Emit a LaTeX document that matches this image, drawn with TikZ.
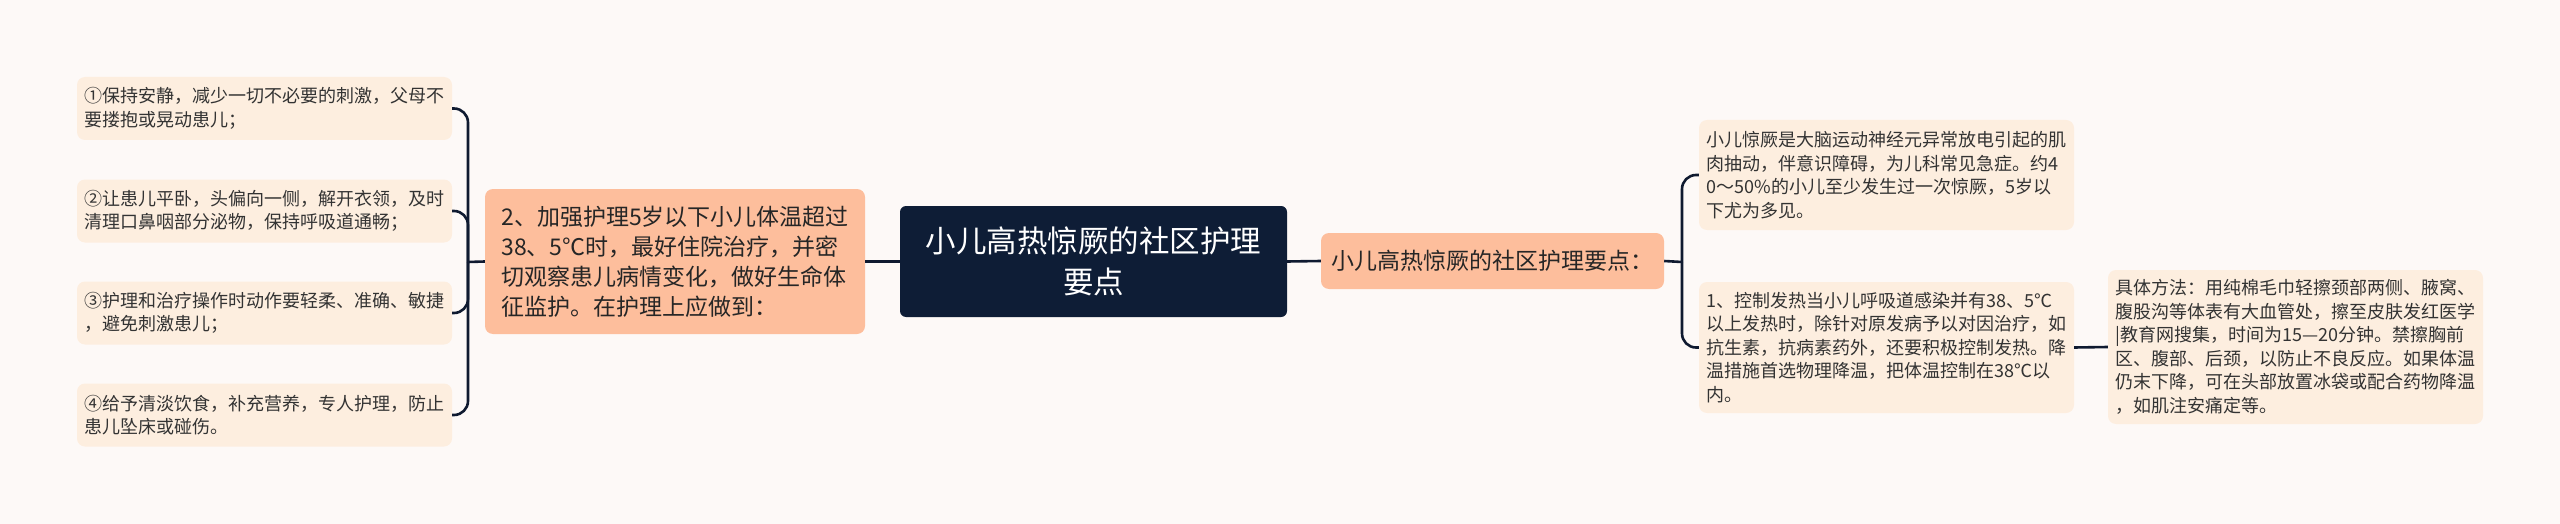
\documentclass[tikz,border=0pt]{standalone}
\usepackage{fontspec}
\setmainfont{Noto Sans CJK SC}
\usetikzlibrary{positioning}
\definecolor{bgpaper}{HTML}{FDF9F7}
\definecolor{leafbg}{HTML}{FDEEDF}
\definecolor{branchbg}{HTML}{FDBE9C}
\definecolor{rootbg}{HTML}{0E1D36}
\definecolor{linkcol}{HTML}{0F1A30}
\tikzset{leaf/.style={shape=rectangle, fill=leafbg, rounded corners=8pt,
    align=left, text=black!80, inner sep=0pt, minimum width=375pt,
    font=\fontsize{18}{23.5}\selectfont}}
\tikzset{branch/.style={shape=rectangle, fill=branchbg, rounded corners=8pt,
    align=left, text=black!85, inner sep=0pt,
    font=\fontsize{23}{30}\selectfont}}
\tikzset{topic/.style={shape=rectangle, fill=rootbg, rounded corners=6pt,
    align=center, text=white, inner sep=0pt, minimum width=387pt,
    minimum height=111pt, font=\fontsize{30.5}{41}\selectfont}}
\tikzset{link/.style={draw=linkcol, line width=2.6pt}}

\begin{document}
\begin{tikzpicture}[x=1pt, y=-1pt]
    \fill[bgpaper] (0,0) rectangle (2560,524);
    \useasboundingbox (0,0) rectangle (2560,524);

    \node[topic] (root) at (1093.5, 261.5) {小儿高热惊厥的社区护理\\要点};

    \node[branch, minimum width=380pt, minimum height=145pt] (care) at (675, 261.5)
        {2、加强护理5岁以下小儿体温超过\\38、5℃时，最好住院治疗，并密\\切观察患儿病情变化，做好生命体\\征监护。在护理上应做到：};
    \node[branch, minimum width=343pt, minimum height=56pt] (keys) at (1492.5, 261)
        {小儿高热惊厥的社区护理要点：};

    \node[leaf, minimum height=63pt] (calm) at (264.5, 108.5)
        {①保持安静，减少一切不必要的刺激，父母不\\要搂抱或晃动患儿；};
    \node[leaf, minimum height=63pt] (lie) at (264.5, 211)
        {②让患儿平卧，头偏向一侧，解开衣领，及时\\清理口鼻咽部分泌物，保持呼吸道通畅；};
    \node[leaf, minimum height=63pt] (gentle) at (264.5, 313)
        {③护理和治疗操作时动作要轻柔、准确、敏捷\\，避免刺激患儿；};
    \node[leaf, minimum height=63pt] (diet) at (264.5, 415)
        {④给予清淡饮食，补充营养，专人护理，防止\\患儿坠床或碰伤。};

    \node[leaf, minimum height=110pt] (intro) at (1886.5, 175)
        {小儿惊厥是大脑运动神经元异常放电引起的肌\\肉抽动，伴意识障碍，为儿科常见急症。约4\\0～50\%的小儿至少发生过一次惊厥，5岁以\\下尤为多见。};
    \node[leaf, minimum height=131pt] (fever) at (1886.5, 347.5)
        {1、控制发热当小儿呼吸道感染并有38、5℃\\以上发热时，除针对原发病予以对因治疗，如\\抗生素，抗病素药外，还要积极控制发热。降\\温措施首选物理降温，把体温控制在38℃以\\内。};
    \node[leaf, minimum height=154pt] (method) at (2295.5, 347)
        {具体方法：用纯棉毛巾轻擦颈部两侧、腋窝、\\腹股沟等体表有大血管处，擦至皮肤发红医学\\|教育网搜集，时间为15—20分钟。禁擦胸前\\区、腹部、后颈，以防止不良反应。如果体温\\仍末下降，可在头部放置冰袋或配合药物降温\\，如肌注安痛定等。};

    \coordinate (lspine) at (468, 262);
    \coordinate (rspine) at (1682, 262);

    \draw[link] (care.east) -- (root.west);
    \draw[link] (root.east) -- (keys.west);
    \draw[link] (fever.east) -- (method.west);

    \draw[link] (care.west) -- (lspine);
    \foreach \kid in {calm, lie, gentle, diet}
        \draw[link, rounded corners=14pt] (lspine) |- (\kid.east);

    \draw[link] (keys.east) -- (rspine);
    \foreach \kid in {intro, fever}
        \draw[link, rounded corners=14pt] (rspine) |- (\kid.west);
\end{tikzpicture}
\end{document}
